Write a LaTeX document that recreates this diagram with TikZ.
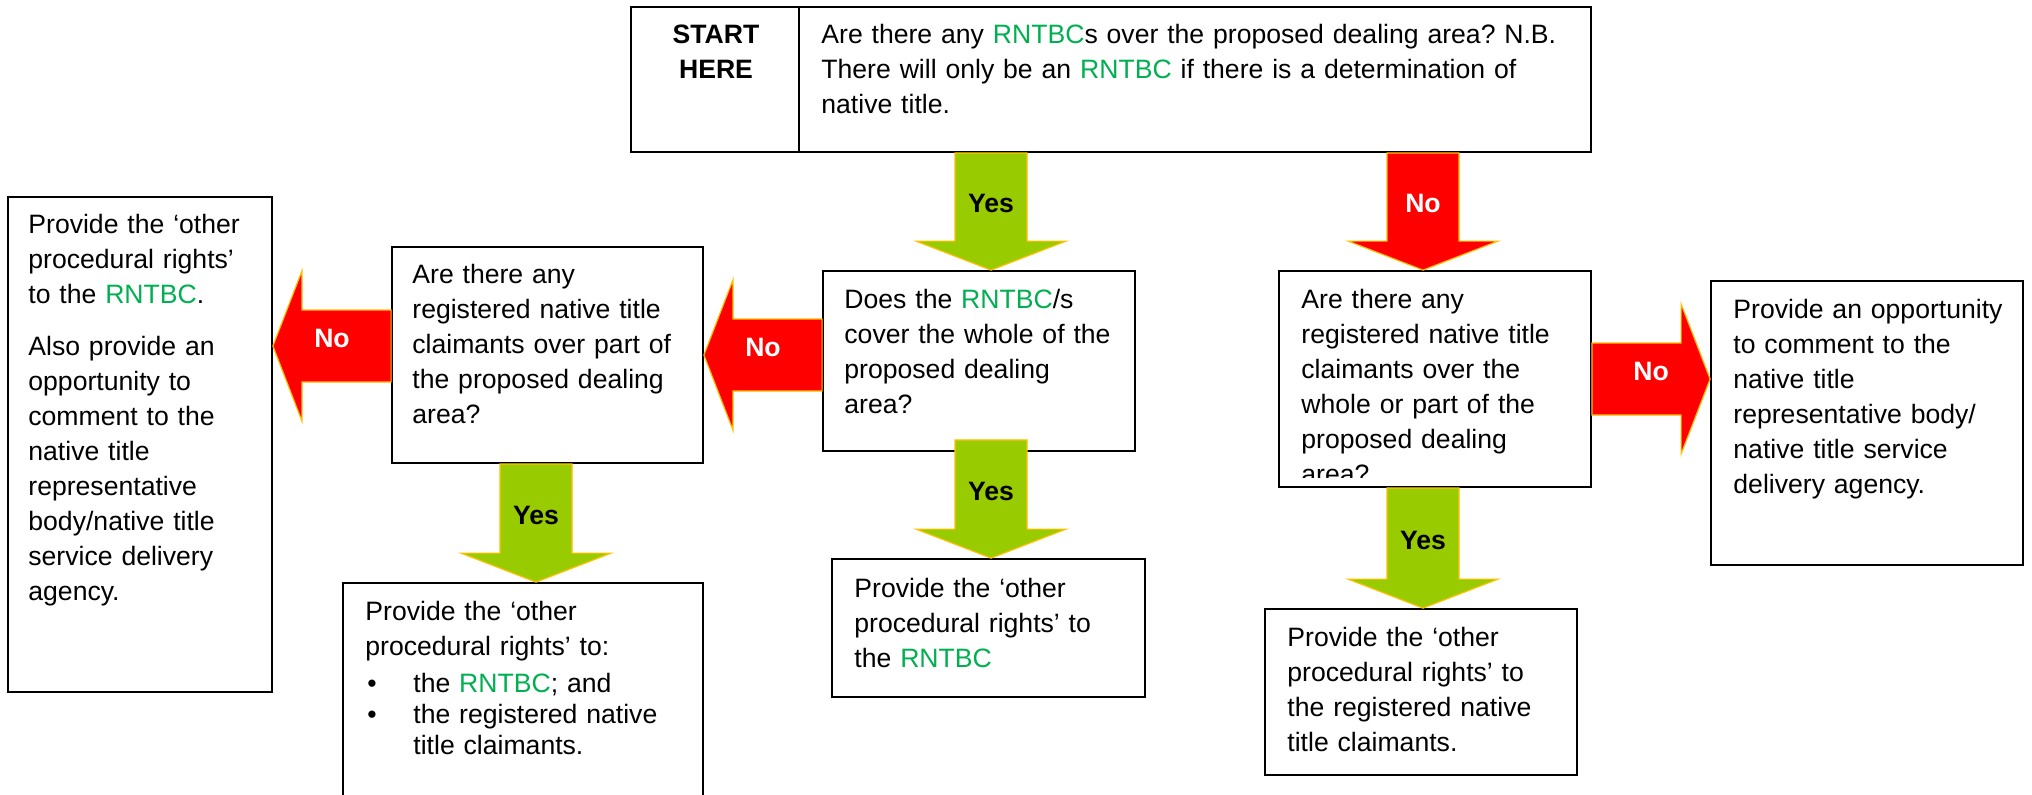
\documentclass[tikz,border=0pt]{standalone}
\usepackage{fontspec}
\setmainfont{Liberation Sans}
\usetikzlibrary{calc,fit}
\frenchspacing

\definecolor{rntbcgreen}{HTML}{00B050}
\definecolor{yesgreen}{HTML}{99CC00}
\definecolor{nored}{HTML}{FF0000}
\definecolor{edgegold}{HTML}{FFC000}

\newcommand{\RNTBC}{\textcolor{rntbcgreen}{RNTBC}}
% block arrow: #1 Yes/No, #2 name, #3 from, #4 to
\newcommand{\blockarrow}[4]{%
  \coordinate (#2-s) at #3;
  \coordinate (#2-t) at #4;
  \coordinate (#2-h) at ($(#2-t)!14.5pt!(#2-s)$);
  \draw[#1 arrow] ($(#2-s)!18pt!90:(#2-t)$) -- ($(#2-h)!18pt!-90:(#2-s)$) -- ($(#2-h)!37.5pt!-90:(#2-s)$) -- (#2-t)
    -- ($(#2-h)!37.5pt!90:(#2-s)$) -- ($(#2-h)!18pt!90:(#2-s)$) -- ($(#2-s)!18pt!-90:(#2-t)$) -- cycle;
  \node[#1 label] (#2) at ($(#2-s)!0.5!(#2-t)$) {#1};
}

\tikzset{
  box/.style={draw, line width=0.9pt, inner sep=0pt},
  txt/.style={anchor=base west, inner sep=0pt, text width=380pt, align=left, font=\fontsize{13.3}{17.5}\selectfont},
  head/.style={anchor=base, inner sep=0pt, text width=80pt, align=center, font=\fontsize{13.3}{17.5}\selectfont\bfseries},
  Yes arrow/.style={fill=yesgreen, draw=edgegold, line width=0.6pt},
  No arrow/.style={fill=nored, draw=edgegold, line width=0.6pt},
  Yes label/.style={font=\fontsize{13.3}{16}\selectfont\bfseries, text=black, yshift=4pt},
  No label/.style={font=\fontsize{13.3}{16}\selectfont\bfseries, text=white, yshift=4pt}
}

\begin{document}
\begin{tikzpicture}[x=0.5pt,y=-0.5pt]
\useasboundingbox (0,0) rectangle (2032,794);
\clip (0,0) rectangle (2032,794);

% boxes
\node[box, fit={(631,7) (799,152)}] (starthere) {};
\node[box, fit={(799,7) (1591,152)}] (firstq) {};
\node[box, fit={(823,271) (1135,451)}] (does) {};
\node[box, fit={(392,247) (703,463)}] (partq) {};
\node[box, fit={(8,197) (272,692)}] (farleft) {};
\node[box, fit={(1279,271) (1591,487)}] (anyq) {};
\node[box, fit={(1711,281) (2023,565)}] (comment) {};
\node[box, fit={(832,559) (1145,697)}] (rntbcbox) {};
\node[box, fit={(343,583) (703,830)}] (bothbox) {};
\node[box, fit={(1265,609) (1577,775)}] (claimbox) {};

% texts
\node[head] (starttxt) at (716,43) {START\\HERE};
\node[txt] (firstqtxt) at (821,43) {Are there any \RNTBC s over the proposed dealing area? N.B.\\
  There will only be an \RNTBC\ if there is a determination of\\ native title.};
\node[txt] (doestxt) at (844,308) {Does the \RNTBC/s\\ cover the whole of the\\ proposed dealing\\ area?};
\node[txt] (partqtxt) at (412,283) {Are there any\\ registered native title\\ claimants over part of\\ the proposed dealing\\ area?};
\node[txt] (farlefttxt) at (28,233) {Provide the ‘other\\ procedural rights’\\ to the \RNTBC.\\[8.5pt]
  Also provide an\\ opportunity to\\ comment to the\\ native title\\ representative\\ body/native title\\ service delivery\\ agency.};
\begin{scope}
\clip (1279,271) rectangle (1591,477);
\node[txt] (anyqtxt) at (1301,308) {Are there any\\ registered native title\\ claimants over the\\ whole or part of the\\ proposed dealing\\ area?};
\end{scope}
\node[txt] (commenttxt) at (1733,318) {Provide an opportunity\\ to comment to the\\ native title\\ representative body/\\ native title service\\ delivery agency.};
\node[txt] (rntbctxt) at (854,597) {Provide the ‘other\\ procedural rights’ to\\ the \RNTBC};
\node[txt] (bothtxt) at (365,620) {Provide the ‘other\\ procedural rights’ to:\\[1pt]
  \makebox[24pt][l]{\hspace{1pt}•}the \RNTBC; and\\[-2pt]
  \makebox[24pt][l]{\hspace{1pt}•}the registered native\\[-2pt]
  \hspace*{24pt}title claimants.};
\node[txt] (claimtxt) at (1287,646) {Provide the ‘other\\ procedural rights’ to\\ the registered native\\ title claimants.};

% arrows
\coordinate (midcol) at (991,0);
\coordinate (rightcol) at (1423,0);
\coordinate (leftcol) at (536,0);
\coordinate (row1) at (0,355);
\coordinate (row2) at (0,346);
\coordinate (row3) at (0,379);
\blockarrow{Yes}{yes1}{(firstq.south -| midcol)}{(does.north -| midcol)}
\blockarrow{No}{no1}{(firstq.south -| rightcol)}{(anyq.north -| rightcol)}
\blockarrow{No}{no2}{(does.west |- row1)}{(partq.east |- row1)}
\blockarrow{No}{no3}{(partq.west |- row2)}{(farleft.east |- row2)}
\blockarrow{Yes}{yes2}{($(does.south -| midcol)+(0,-12)$)}{(rntbcbox.north -| midcol)}
\blockarrow{Yes}{yes3}{(partq.south -| leftcol)}{(bothbox.north -| leftcol)}
\blockarrow{No}{no4}{(anyq.east |- row3)}{(comment.west |- row3)}
\blockarrow{Yes}{yes4}{(anyq.south -| rightcol)}{(claimbox.north -| rightcol)}
\end{tikzpicture}
\end{document}
